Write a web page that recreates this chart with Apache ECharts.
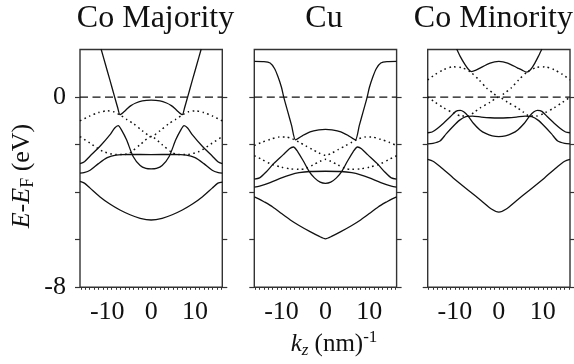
<!DOCTYPE html>
<html>
<head>
<meta charset="utf-8">
<script src="https://cdn.jsdelivr.net/npm/echarts@6/dist/echarts.min.js"></script>
<style>
  html, body { margin: 0; padding: 0; background: #fff; }
  #chart { width: 574px; height: 364px; }
</style>
</head>
<body>
<div id="chart"></div>
<script>
// Axis ranges: wave vector k_z (nm^-1) and energy relative to E_F (eV)
const kRange = [-16.2, 16.2];
const eRange = [-8, 2];
const eTicks = [-8, -6, -4, -2, 0];
const eLabels = [-8, 0];
const kLabels = [-10, 0, 10];
const kMinorTicks = [-16, -15, -14, -13, -12, -11, -10, -9, -8, -7, -6, -5, -4, -3, -2, -1, 0,
                     1, 2, 3, 4, 5, 6, 7, 8, 9, 10, 11, 12, 13, 14, 15, 16];
const panelTitles = ['Co Majority', 'Cu', 'Co Minority'];
const fermiLevel = [[-16.2, 0], [16.2, 0]];

// ---- Co majority-spin bands ([k, E]) ----
const coMajSolid1 = [[-11.4, 2.02], [-10.4, 1.37], [-9.4, 0.72], [-8.4, 0.06], [-7.6, -0.46], [-7.1, -0.74],
  [-6.2, -0.62], [-5.4, -0.48], [-4.6, -0.36], [-3.5, -0.25], [-2, -0.16], [0, -0.13], [2, -0.16], [3.5, -0.25],
  [4.6, -0.36], [5.4, -0.48], [6.2, -0.62], [7.1, -0.74], [7.6, -0.46], [8.4, 0.06], [9.4, 0.72], [10.4, 1.37], [11.4, 2.02]];
const coMajSolid2 = [[-16.2, -2.8], [-15.2, -2.72], [-13.9, -2.48], [-11.7, -2.08], [-9.4, -1.59], [-8.3, -1.3],
  [-7.5, -1.2], [-6.7, -1.4], [-5.6, -1.8], [-4.1, -2.5], [-2.5, -2.88], [-1.2, -3.0], [0, -3.02], [1.2, -3.0],
  [2.5, -2.88], [4.1, -2.5], [5.6, -1.8], [6.7, -1.4], [7.5, -1.2], [8.3, -1.3], [9.4, -1.59], [11.7, -2.08],
  [13.9, -2.48], [15.2, -2.72], [16.2, -2.8]];
const coMajSolid3 = [[-16.2, -3.2], [-15.3, -3.18], [-13.9, -3.08], [-12, -2.8], [-10, -2.55], [-8, -2.44], [-5, -2.41],
  [0, -2.42], [5, -2.41], [8, -2.44], [10, -2.55], [12, -2.8], [13.9, -3.08], [15.3, -3.18], [16.2, -3.2]];
const coMajSolid4 = [[-16.2, -3.55], [-15.2, -3.62], [-13.9, -3.83], [-11.7, -4.19], [-9.4, -4.5], [-7.1, -4.75],
  [-4.8, -4.95], [-2.5, -5.1], [0, -5.17], [2.5, -5.1], [4.8, -4.95], [7.1, -4.75], [9.4, -4.5], [11.7, -4.19],
  [13.9, -3.83], [15.2, -3.62], [16.2, -3.58]];
const coMajDotted1 = [[-16.2, -1.0], [-14, -0.8], [-12, -0.65], [-10, -0.58], [-8.5, -0.62], [-7.1, -0.75],
  [-5.5, -0.95], [-4, -1.12], [-2, -1.42], [0, -1.66], [2, -1.42], [4, -1.12], [5.5, -0.95], [7.1, -0.75],
  [8.5, -0.62], [10, -0.58], [12, -0.65], [14, -0.8], [16.2, -1.0]];
const coMajDotted2 = [[-16.2, -1.66], [-13.9, -1.94], [-10.9, -2.29], [-7.9, -2.42], [-6.2, -2.42], [-4.8, -2.34],
  [-2.5, -2.0], [0, -1.66], [2.5, -2.0], [4.8, -2.34], [6.2, -2.42], [7.9, -2.42], [10.9, -2.29], [13.9, -1.94],
  [16.2, -1.66]];

// ---- Cu bands ----
const cuSolid1 = [[-16.2, 1.5], [-14, 1.49], [-12.6, 1.43], [-11.6, 1.2], [-10.8, 0.85], [-10, 0.4], [-9.5, 0.0],
  [-8.6, -0.6], [-7.7, -1.2], [-6.8, -1.8], [-5.2, -1.62], [-3.5, -1.46], [-1.5, -1.38], [0, -1.36], [1.5, -1.38],
  [3.5, -1.46], [5.2, -1.62], [6.8, -1.8], [7.7, -1.2], [8.6, -0.6], [9.5, 0.0], [10, 0.4], [10.8, 0.85],
  [11.6, 1.2], [12.6, 1.43], [14, 1.49], [16.2, 1.5]];
const cuSolid2 = [[-16.2, -3.45], [-15, -3.4], [-13.5, -3.15], [-11.8, -2.8], [-9.6, -2.42], [-8.2, -2.17],
  [-7.3, -2.1], [-6.3, -2.3], [-5, -2.7], [-3.8, -3.1], [-2.5, -3.4], [-1.2, -3.58], [0, -3.63], [1.2, -3.58],
  [2.5, -3.4], [3.8, -3.1], [5, -2.7], [6.3, -2.3], [7.3, -2.1], [8.2, -2.17], [9.6, -2.42], [11.8, -2.8],
  [13.5, -3.15], [15, -3.4], [16.2, -3.45]];
const cuSolid3 = [[-16.2, -3.79], [-15, -3.75], [-12.6, -3.6], [-10, -3.4], [-8, -3.27], [-6, -3.18], [-3.5, -3.13],
  [0, -3.12], [3.5, -3.13], [6, -3.18], [8, -3.27], [10, -3.4], [12.6, -3.6], [15, -3.75], [16.2, -3.79]];
const cuSolid4 = [[-16.2, -4.2], [-15.2, -4.28], [-14, -4.4], [-12, -4.62], [-10, -4.9], [-8, -5.17], [-6, -5.4],
  [-3.5, -5.66], [-1.5, -5.85], [0, -5.96], [1.5, -5.85], [3.5, -5.66], [6, -5.4], [8, -5.17], [10, -4.9],
  [12, -4.62], [14, -4.4], [15.2, -4.28], [16.2, -4.2]];
const cuDotted1 = [[-16.2, -2.04], [-14.5, -1.9], [-12.6, -1.78], [-10.5, -1.68], [-9, -1.68], [-7.5, -1.76],
  [-6, -1.9], [-4.5, -2.05], [-3, -2.2], [-1.5, -2.35], [0, -2.45], [1.5, -2.35], [3, -2.2], [4.5, -2.05],
  [6, -1.9], [7.5, -1.76], [9, -1.68], [10.5, -1.68], [12.6, -1.78], [14.5, -1.9], [16.2, -2.04]];
const cuDotted2 = [[-16.2, -2.47], [-14.5, -2.62], [-12.6, -2.8], [-10, -2.95], [-8, -3.02], [-6, -3.04],
  [-4.5, -3.0], [-2.8, -2.85], [-1.2, -2.7], [0, -2.62], [1.2, -2.7], [2.8, -2.85], [4.5, -3.0], [6, -3.04],
  [8, -3.02], [10, -2.95], [12.6, -2.8], [14.5, -2.62], [16.2, -2.47]];

// ---- Co minority-spin bands ----
const coMinSolid1 = [[-9.6, 2.02], [-8.8, 1.71], [-7.7, 1.36], [-6.9, 1.16], [-6.2, 1.07], [-5.2, 1.13], [-4.3, 1.22],
  [-2, 1.43], [0, 1.5], [2, 1.43], [4.3, 1.22], [5.3, 1.13], [6.3, 1.05], [7.2, 1.15], [8.2, 1.43], [9.1, 1.75],
  [9.8, 2.02]];
const coMinSolid2 = [[-16.2, -1.5], [-15.2, -1.47], [-14, -1.32], [-12.6, -1.1], [-11, -0.82], [-9.8, -0.6],
  [-8.8, -0.56], [-8, -0.62], [-7, -0.8], [-5.8, -1.1], [-4.3, -1.38], [-3, -1.53], [-1.5, -1.63], [0, -1.66],
  [1.5, -1.63], [3, -1.53], [4.3, -1.38], [5.8, -1.1], [7, -0.8], [8, -0.62], [8.8, -0.56], [9.8, -0.6],
  [11, -0.82], [12.6, -1.1], [14, -1.32], [15.2, -1.47], [16.2, -1.5]];
const coMinSolid3 = [[-16.2, -1.97], [-15, -1.95], [-13.4, -1.85], [-12, -1.55], [-10.5, -1.25], [-9, -0.98],
  [-7.5, -0.82], [-6, -0.8], [-4, -0.84], [-2, -0.87], [0, -0.88], [2, -0.87], [4, -0.84], [6, -0.8],
  [7.5, -0.82], [9, -0.98], [10.5, -1.25], [12, -1.55], [13.4, -1.85], [15, -1.95], [16.2, -1.97]];
const coMinSolid4 = [[-16.2, -2.62], [-15, -2.7], [-13.4, -2.92], [-10.4, -3.4], [-6.6, -3.97], [-4, -4.36],
  [-1.6, -4.72], [0, -4.84], [1.6, -4.72], [4, -4.36], [6.6, -3.97], [10.4, -3.4], [13.4, -2.92], [15, -2.7],
  [16.2, -2.62]];
const coMinDotted1 = [[-16.2, 0.72], [-14.5, 0.95], [-12.6, 1.15], [-10.5, 1.27], [-8.5, 1.24], [-6.5, 1.06],
  [-4.5, 0.72], [-2.8, 0.38], [-1.2, 0.15], [0, 0.0], [1.2, 0.15], [2.8, 0.38], [4.5, 0.72], [6.5, 1.06],
  [8.5, 1.24], [10.5, 1.27], [12.6, 1.15], [14.5, 0.95], [16.2, 0.72]];
const coMinDotted2 = [[-16.2, 0.0], [-14.5, -0.22], [-12.6, -0.45], [-10.5, -0.66], [-8.5, -0.8], [-7, -0.8],
  [-5.5, -0.62], [-4.3, -0.46], [-2, -0.22], [0, 0.0], [2, -0.22], [4.3, -0.46], [5.5, -0.62], [7, -0.8],
  [8.5, -0.8], [10.5, -0.66], [12.6, -0.45], [14.5, -0.22], [16.2, 0.0]];

const panels = [
  { solid: [coMajSolid1, coMajSolid2, coMajSolid3, coMajSolid4], dotted: [coMajDotted1, coMajDotted2] },
  { solid: [cuSolid1, cuSolid2, cuSolid3, cuSolid4], dotted: [cuDotted1, cuDotted2] },
  { solid: [coMinSolid1, coMinSolid2, coMinSolid3, coMinSolid4], dotted: [coMinDotted1, coMinDotted2] }
];

// ---- layout / style ----
const FONT = '"Liberation Serif", "Times New Roman", serif';
const INK = '#111';
const FRAME = '#333';
const gridLefts = [80, 254.3, 427.7];
const GRID_TOP = 49.5, GRID_W = 142.3, GRID_H = 237.8;
const titleCenters = [155.5, 324, 493.4];

const grid = [], xAxis = [], yAxis = [], series = [];

panels.forEach((p, i) => {
  grid.push({
    left: gridLefts[i], top: GRID_TOP, width: GRID_W, height: GRID_H,
    show: true, borderColor: FRAME, borderWidth: 1.4, backgroundColor: 'transparent',
    containLabel: false, outerBoundsMode: 'none'
  });
  xAxis.push({
    type: 'value', gridIndex: i, min: kRange[0], max: kRange[1], position: 'bottom',
    axisLine: { show: false, onZero: false }, splitLine: { show: false },
    axisTick: { show: true, customValues: kMinorTicks, length: 2.5, lineStyle: { color: FRAME, width: 1 } },
    axisLabel: { customValues: kLabels, fontFamily: FONT, fontSize: 26, color: INK, margin: 12 }
  });
  const yBase = {
    type: 'value', gridIndex: i, min: eRange[0], max: eRange[1], interval: 2,
    axisLine: { show: false, onZero: false }, splitLine: { show: false },
    axisTick: { show: true, customValues: eTicks, length: 5, lineStyle: { color: FRAME, width: 1.2 } }
  };
  yAxis.push(Object.assign({}, yBase, {
    position: 'left',
    axisLabel: { show: i === 0, customValues: eLabels, fontFamily: FONT, fontSize: 26, color: INK, margin: 14 }
  }));
  yAxis.push(Object.assign({}, yBase, { position: 'right', axisLabel: { show: false } }));

  const common = { type: 'line', xAxisIndex: i, yAxisIndex: 2 * i, showSymbol: false, symbol: 'none',
    silent: true, animation: false, clip: true };
  series.push(Object.assign({}, common, {
    data: fermiLevel, lineStyle: { color: INK, width: 1.2, type: [8, 4.5] }
  }));
  p.solid.forEach(band => series.push(Object.assign({}, common, {
    data: band, smooth: 0.25, lineStyle: { color: INK, width: 1.3 }
  })));
  p.dotted.forEach(band => series.push(Object.assign({}, common, {
    data: band, smooth: 0.25, lineStyle: { color: INK, width: 1.5, type: [1.6, 3.4] }
  })));
});

const graphic = panelTitles.map((t, i) => ({
  type: 'text', x: titleCenters[i], y: 19, silent: true,
  style: { text: t, font: '32px ' + FONT, fill: INK, align: 'center', verticalAlign: 'middle' }
}));

graphic.push({
  type: 'text', x: 22, y: 176, rotation: Math.PI / 2, silent: true,
  style: {
    text: '{i|E}{r|-}{i|E}{s|F}{r| (eV)}', align: 'center', verticalAlign: 'middle', fill: INK,
    rich: {
      i: { fontFamily: FONT, fontStyle: 'italic', fontSize: 26, lineHeight: 30, fill: INK },
      r: { fontFamily: FONT, fontSize: 26, lineHeight: 30, fill: INK },
      s: { fontFamily: FONT, fontSize: 18, lineHeight: 14, verticalAlign: 'bottom', fill: INK }
    }
  }
});
graphic.push({
  type: 'text', x: 334, y: 344, silent: true,
  style: {
    text: '{i|k}{s|z}{r| (nm)}{p|-1}', align: 'center', verticalAlign: 'middle', fill: INK,
    rich: {
      i: { fontFamily: FONT, fontStyle: 'italic', fontSize: 25, lineHeight: 30, fill: INK },
      r: { fontFamily: FONT, fontSize: 25, lineHeight: 30, fill: INK },
      s: { fontFamily: FONT, fontStyle: 'italic', fontSize: 17, lineHeight: 14, verticalAlign: 'bottom', fill: INK },
      p: { fontFamily: FONT, fontSize: 17, lineHeight: 14, verticalAlign: 'top', fill: INK }
    }
  }
});

const chart = echarts.init(document.getElementById('chart'), null, { renderer: 'canvas' });
chart.setOption({
  animation: false,
  backgroundColor: '#fff',
  grid, xAxis, yAxis, series, graphic
});
</script>
</body>
</html>
